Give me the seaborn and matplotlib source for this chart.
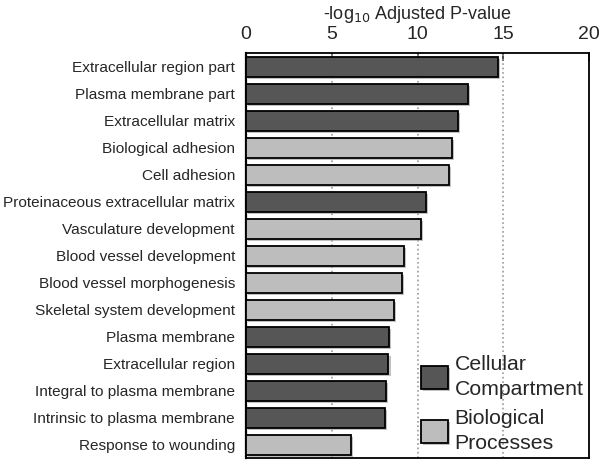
import matplotlib
matplotlib.use('Agg')
import matplotlib.pyplot as plt
import matplotlib.patheffects as pe
import pandas as pd
import seaborn as sns

terms = [
    'Extracellular region part', 'Plasma membrane part', 'Extracellular matrix',
    'Biological adhesion', 'Cell adhesion', 'Proteinaceous extracellular matrix',
    'Vasculature development', 'Blood vessel development', 'Blood vessel morphogenesis',
    'Skeletal system development', 'Plasma membrane', 'Extracellular region',
    'Integral to plasma membrane', 'Intrinsic to plasma membrane', 'Response to wounding',
]
scores = [14.7, 12.95, 12.35, 12.0, 11.85, 10.5, 10.2, 9.2, 9.1, 8.6,
          8.35, 8.3, 8.15, 8.12, 6.1]
groups = ['CC', 'CC', 'CC', 'BP', 'BP', 'CC', 'BP', 'BP', 'BP', 'BP',
          'CC', 'CC', 'CC', 'CC', 'BP']
group_names = {'CC': 'Cellular\nCompartment', 'BP': 'Biological\nProcesses'}
palette = {'Cellular\nCompartment': '#565656', 'Biological\nProcesses': '#bdbdbd'}

df = pd.DataFrame({'term': terms, 'score': scores,
                   'group': [group_names[g] for g in groups]})

sns.set_style('white')
plt.rcParams['font.family'] = ['Liberation Sans', 'DejaVu Sans']

fig = plt.figure(figsize=(6, 4.66), dpi=100)
ax = fig.add_axes([0.41, 0.017, 0.572, 0.869])

sns.barplot(data=df, x='score', y='term', hue='group', palette=palette,
            dodge=False, width=0.74, edgecolor='black', linewidth=1.3,
            hue_order=list(palette.keys()), ax=ax, zorder=3)

shadow = [pe.SimplePatchShadow(offset=(1.5, -1.5), shadow_rgbFace='#999999', alpha=0.6),
          pe.Normal()]
for p in ax.patches:
    p.set_path_effects(shadow)

ax.set_xlim(0, 20)
ax.set_ylim(14.5, -0.5)
ax.set_xticks([0, 5, 10, 15, 20])
for x in [5, 10, 15]:
    ax.axvline(x, color='#9a9a9a', linestyle=':', linewidth=1.2, zorder=1)

ax.xaxis.tick_top()
ax.xaxis.set_label_position('top')
ax.set_xlabel('-log$_{10}$ Adjusted P-value', fontsize=13, labelpad=5)
ax.set_ylabel('')
ax.tick_params(axis='x', direction='in', length=6, width=1.2, labelsize=14, pad=7, top=True)
ax.tick_params(axis='y', length=0, labelsize=11.1, pad=8)

for s in ax.spines.values():
    s.set_color('black')
    s.set_linewidth(1.3)
ax.spines['left'].set_linewidth(1.6)

leg = ax.legend(loc='lower right', bbox_to_anchor=(1.021, -0.02), frameon=False,
                fontsize=15.3, handlelength=1.3, handleheight=1.3, handletextpad=0.3,
                labelspacing=0.5, borderaxespad=0.2)
for t in leg.get_texts():
    t.set_linespacing(1.4)

fig.savefig('out.png', dpi=100)
